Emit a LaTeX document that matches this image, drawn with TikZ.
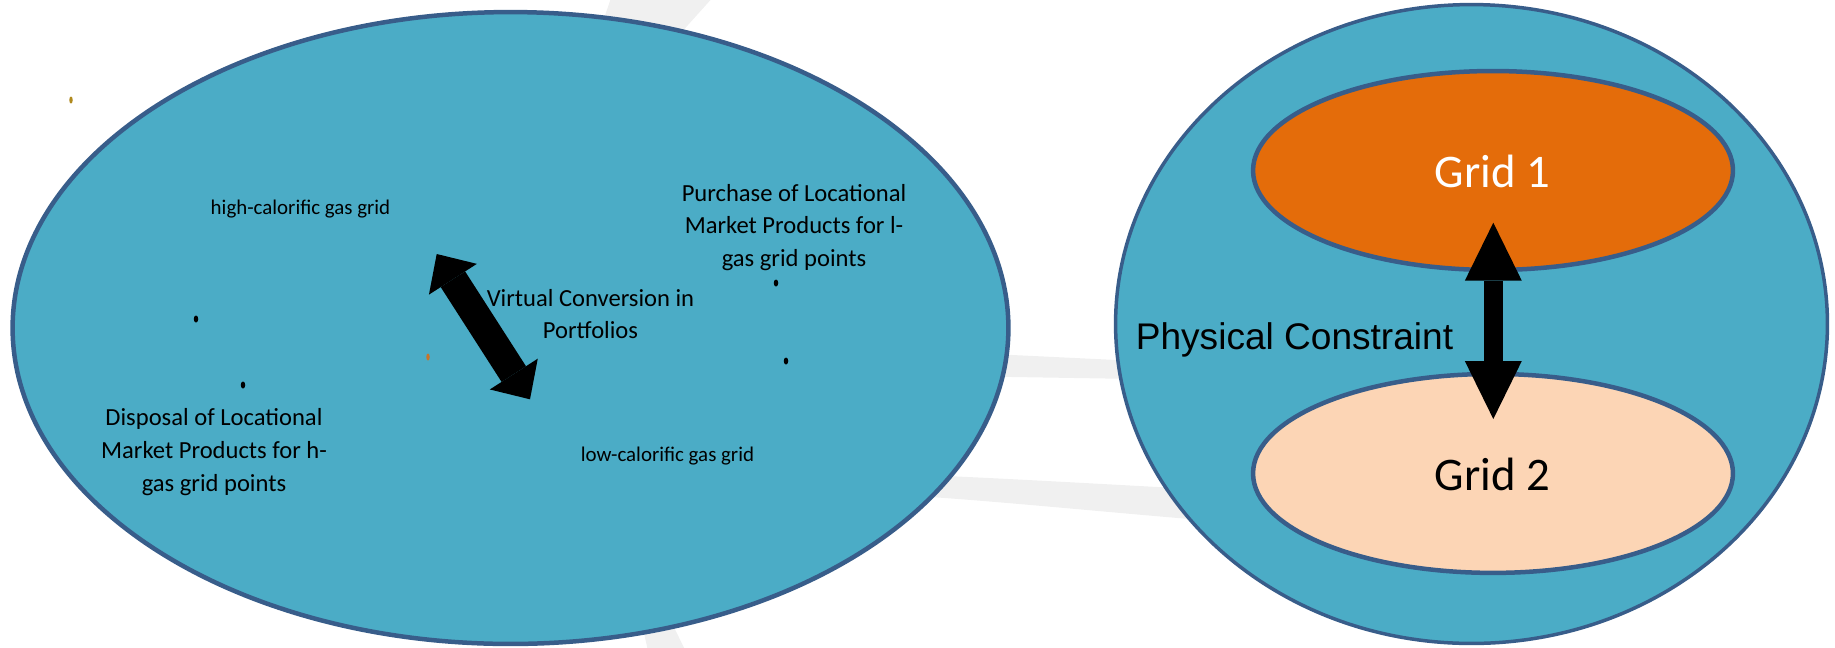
\documentclass[tikz,border=0pt]{standalone}
\usepackage{fontspec}
\newfontfamily\calibri{Carlito}
\newfontfamily\arialfont{Liberation Sans}
\usetikzlibrary{arrows.meta}

\definecolor{zonefill}{HTML}{4BACC6}
\definecolor{zonerim}{HTML}{385D8A}
\definecolor{gridorange}{HTML}{E46C0A}
\definecolor{gridpeach}{HTML}{FCD5B5}
\definecolor{swoosh}{HTML}{F0F0F0}
\definecolor{speckolive}{HTML}{B08A1E}
\definecolor{speckorange}{HTML}{C8742A}

\begin{document}
\begin{tikzpicture}[x=0.02cm, y=-0.02cm,
    zone/.style={fill=zonefill, draw=zonerim, line width=0.09cm},
    smalltxt/.style={font=\calibri\fontsize{11.9}{14.5}\selectfont, inner sep=0pt},
    blocktxt/.style={font=\calibri\fontsize{14}{18.7}\selectfont, align=center, inner sep=0pt},
    gridtxt/.style={font=\calibri\fontsize{26.6}{32}\selectfont, inner sep=0pt}]
        \useasboundingbox (0,0) rectangle (1835,647);

        % Define coordinates
        \coordinate (market) at (510.5,328);
        \coordinate (phys) at (1471.5,324);
        \coordinate (g1) at (1493,170.5);
        \coordinate (g2) at (1493,473.4);
        % Tips of the two block arrows
        \coordinate (vtop) at (436.7,254);
        \coordinate (vbot) at (530,399.3);
        \coordinate (ptop) at (1493.3,222.7);
        \coordinate (pbot) at (1493.3,419);

        % Faint grey swoosh in the background
        \fill[swoosh] (612,-5) -- (715,-5) -- (670,45) -- (595,45) -- cycle;
        \fill[swoosh] (640,615) -- (668,615) -- (690,660) -- (650,660) -- cycle;
        \fill[swoosh] (950,352) -- (1200,364) -- (1200,380) -- (950,376) -- cycle;
        \fill[swoosh] (900,474) .. controls (1000,478) and (1100,484) .. (1250,492)
            -- (1250,524) .. controls (1100,512) and (1000,501) .. (900,495) -- cycle;

        % Draw the two big regions
        \filldraw[zone] (market) ellipse [x radius=9.96cm, y radius=6.32cm];
        \filldraw[zone, line width=0.07cm] (phys) ellipse [x radius=7.12cm, y radius=6.39cm];
        % Grids inside the right region
        \filldraw[zone, fill=gridorange] (g1) ellipse [x radius=4.8cm, y radius=1.99cm];
        \filldraw[zone, fill=gridpeach] (g2) ellipse [x radius=4.8cm, y radius=1.99cm];

        % Block arrows
        \draw[line width=0.58cm, {Triangle[length=0.6cm, width=1.14cm, line width=0pt]}-{Triangle[length=0.6cm, width=1.14cm, line width=0pt]}] (vtop) -- (vbot);
        \draw[line width=0.386cm, {Triangle[length=1.16cm, width=1.14cm, line width=0pt]}-{Triangle[length=1.16cm, width=1.14cm, line width=0pt]}] (ptop) -- (pbot);

        % Labels
        \node[smalltxt] (highgas) at (300.5,209) {high-calorific gas grid};
        \node[smalltxt] (lowgas) at (667.5,456.5) {low-calorific gas grid};
        \node[blocktxt] (virtconv) at (590.5,314) {Virtual Conversion in\\Portfolios};
        \node[blocktxt] (purchase) at (794,227.5) {Purchase of Locational\\Market Products for l-\\gas grid points};
        \node[blocktxt] (disposal) at (214,452) {Disposal of Locational\\Market Products for h-\\gas grid points};
        \node[font=\arialfont\fontsize{21.1}{25}\selectfont, inner sep=0pt] (physcon) at (1294.5,339.5) {Physical Constraint};
        \node[gridtxt, text=white] (grid1) at (1492.5,171.5) {Grid 1};
        \node[gridtxt] (grid2) at (1492.5,474.7) {Grid 2};

        % Small stray marks
        \fill[speckolive] (71,100) ellipse [x radius=0.035cm, y radius=0.07cm];
        \fill[speckorange] (428,357) ellipse [x radius=0.035cm, y radius=0.07cm];
        \foreach \p in {(196,319),(243,385),(776,283),(786,361)}
            \fill \p ellipse [x radius=0.045cm, y radius=0.07cm];
    \end{tikzpicture}
\end{document}
